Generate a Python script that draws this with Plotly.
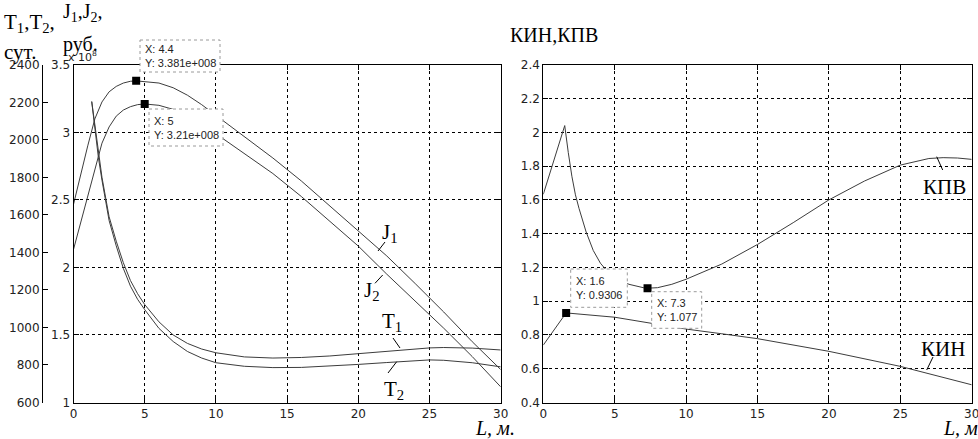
import plotly.graph_objects as go

W, H = 978, 439

# ---------------- data ----------------
# left panel: J (x 10^8 rub) and T (days) vs L, m
L_J1 = [0, 0.5, 1, 1.5, 2, 2.5, 3, 3.5, 4, 4.4, 5, 6, 7, 8, 9, 10, 12, 14, 16, 18, 20, 22, 24, 26, 28, 30]
J1 = [2.467, 2.69, 2.9, 3.10, 3.225, 3.30, 3.34, 3.365, 3.378, 3.381, 3.375, 3.365, 3.33, 3.275, 3.205,
      3.125, 2.97, 2.81, 2.64, 2.455, 2.269, 2.085, 1.88, 1.67, 1.45, 1.244]

L_J2 = [0, 0.5, 1, 1.5, 1.75, 2, 2.5, 3, 3.5, 4, 4.5, 5, 6, 7, 8, 9, 10, 12, 14, 16, 18, 20, 22, 24, 26, 28, 30]
J2 = [2.133, 2.33, 2.53, 2.73, 2.824, 2.92, 3.04, 3.12, 3.165, 3.19, 3.205, 3.21, 3.2, 3.17, 3.125, 3.065,
      2.99, 2.845, 2.695, 2.525, 2.34, 2.158, 1.95, 1.75, 1.55, 1.34, 1.116]

L_T = [1.28, 1.5, 1.75, 2, 2.5, 3, 3.5, 4, 4.5, 5, 6, 7, 8, 9, 10, 12, 14, 16, 18, 20, 22, 24, 25, 26, 28, 30]
T1 = [2204, 2075, 1920, 1800, 1590, 1460, 1345, 1250, 1180, 1122, 1030, 960, 915, 885, 865, 843, 837, 840,
      848, 860, 874, 887, 891, 893, 890, 880]
T2 = [2204, 2065, 1905, 1785, 1570, 1435, 1315, 1220, 1150, 1095, 995, 925, 872, 837, 812, 793, 786, 787,
      793, 803, 813, 823, 827, 825, 812, 790]

# right panel: КПВ and КИН vs L, m
L_KPV = [0, 0.5, 1, 1.5, 1.75, 2, 2.25, 2.5, 3, 3.5, 4, 4.5, 5, 6, 7, 7.3, 8, 9, 10, 12.5, 15, 17.5, 20, 22.5,
         25, 27, 28, 29, 30]
KPV = [1.633, 1.77, 1.9, 2.04, 1.88, 1.74, 1.63, 1.55, 1.41, 1.30, 1.225, 1.175, 1.14, 1.10, 1.08, 1.077, 1.08,
       1.10, 1.13, 1.22, 1.336, 1.465, 1.6, 1.712, 1.806, 1.845, 1.85, 1.848, 1.84]

L_KIN = [0, 1.6, 5, 7.5, 10, 12.5, 15, 20, 25, 30]
KIN = [0.74, 0.9306, 0.905, 0.87, 0.835, 0.807, 0.778, 0.703, 0.614, 0.505]

# data tips
TIP_L_X = [4.4, 5]
TIP_L_Y = [3.381, 3.21]
TIP_L_TXT = ["X: 4.4<br>Y: 3.381e+008", "X: 5<br>Y: 3.21e+008"]
TIP_R_X = [1.6, 7.3]
TIP_R_Y = [0.9306, 1.077]
TIP_R_TXT = ["X: 1.6<br>Y: 0.9306", "X: 7.3<br>Y: 1.077"]

# ---------------- layout helpers ----------------
def px(x):
    return x / W

def py(y):
    return 1 - y / H

LINE = dict(color="#3c3c3c", width=1)
TICKFONT = dict(family="DejaVu Sans", size=12, color="#222")
SERIF = "Liberation Serif"

fig = go.Figure()
fig.add_trace(go.Scatter(x=L_J1, y=J1, mode="lines", line=LINE, xaxis="x", yaxis="y"))
fig.add_trace(go.Scatter(x=L_J2, y=J2, mode="lines", line=LINE, xaxis="x", yaxis="y"))
fig.add_trace(go.Scatter(x=L_T, y=T1, mode="lines", line=LINE, xaxis="x", yaxis="y2"))
fig.add_trace(go.Scatter(x=L_T, y=T2, mode="lines", line=LINE, xaxis="x", yaxis="y2"))
fig.add_trace(go.Scatter(x=TIP_L_X, y=TIP_L_Y, mode="markers",
                         marker=dict(symbol="square", size=8, color="black"), xaxis="x", yaxis="y"))
fig.add_trace(go.Scatter(x=L_KPV, y=KPV, mode="lines", line=LINE, xaxis="x2", yaxis="y3"))
fig.add_trace(go.Scatter(x=L_KIN, y=KIN, mode="lines", line=LINE, xaxis="x2", yaxis="y3"))
fig.add_trace(go.Scatter(x=TIP_R_X, y=TIP_R_Y, mode="markers",
                         marker=dict(symbol="square", size=8, color="black"), xaxis="x2", yaxis="y3"))

common = dict(showline=True, linecolor="black", linewidth=1, ticks="inside", ticklen=5,
              tickcolor="black", tickfont=TICKFONT, zeroline=False, automargin=False,
              ticklabeloverflow="allow")
grid = dict(showgrid=True, gridcolor="black", gridwidth=1, griddash="3px,3px")

YDOM = [py(402.5), py(64.8)]

fig.update_layout(
    template="none",
    width=W, height=H, margin=dict(l=0, r=0, t=0, b=0, pad=0),
    paper_bgcolor="white", plot_bgcolor="white", showlegend=False,
    xaxis=dict(domain=[px(73.5), px(500.7)], range=[0, 30], dtick=5, anchor="y", mirror="ticks",
               **common, **grid),
    yaxis=dict(domain=YDOM, range=[1, 3.5], dtick=0.5, anchor="x", mirror="ticks", **common, **grid),
    yaxis2=dict(overlaying="y", anchor="free", position=px(42), side="left", range=[600, 2400],
                dtick=200, showgrid=False, **common),
    xaxis2=dict(domain=[px(543.3), px(971.7)], range=[0, 30], dtick=5, anchor="y3", mirror="ticks",
                **common, **grid),
    yaxis3=dict(domain=YDOM, range=[0.4, 2.4], dtick=0.2, anchor="x2", mirror="ticks", **common, **grid),
)

ann = []
def text(x, y, s, size=20, xanchor="left", family=SERIF, color="black"):
    ann.append(dict(x=px(x), y=py(y), xref="paper", yref="paper", text=s, showarrow=False,
                    xanchor=xanchor, yanchor="middle", font=dict(family=family, size=size, color=color)))

# axis titles
text(2, 23, "T<sub>1</sub>,T<sub>2</sub>,", 21)
text(2, 52, "сут.", 21)
text(61, 13, "J<sub>1</sub>,J<sub>2</sub>,", 20)
text(61, 44, "руб.", 20)
text(66, 57, "x 10<sup>8</sup>", 11, family="DejaVu Sans", color="#222")
text(508, 35, "КИН,КПВ", 20)
text(473, 428, "<i>L, м.</i>", 20)
text(941, 428, "<i>L, м</i>", 20)

# curve labels
text(390, 233, "J<sub>1</sub>", 21, "center")
text(372, 291, "J<sub>2</sub>", 21, "center")
text(392, 322, "T<sub>1</sub>", 21, "center")
text(394, 390, "T<sub>2</sub>", 21, "center")
text(944, 187, "КПВ", 21, "center")
text(943, 349, "КИН", 21, "center")

shapes = []
def seg(x0, y0, x1, y1):
    shapes.append(dict(type="line", xref="paper", yref="paper", x0=px(x0), y0=py(y0), x1=px(x1), y1=py(y1),
                       line=dict(color="black", width=1)))

seg(385, 242, 378, 251)
seg(382.7, 275, 375, 283.3)
seg(393, 338, 400, 348)
seg(396.7, 361.7, 388, 373)
seg(936.7, 156.7, 942.7, 170)
seg(933, 357, 926.7, 370)

# data-tip boxes
boxes = [(140, 40, 220, 72, TIP_L_TXT[0]), (149, 109, 223, 146, TIP_L_TXT[1]),
         (570.7, 269, 627.3, 307.3, TIP_R_TXT[0]), (651.7, 291.7, 701.7, 328.3, TIP_R_TXT[1])]
for x0, y0, x1, y1, s in boxes:
    shapes.append(dict(type="rect", xref="paper", yref="paper", x0=px(x0), y0=py(y0), x1=px(x1), y1=py(y1),
                       fillcolor="white", layer="above", line=dict(color="#9a9a9a", width=1, dash="dot")))
    ann.append(dict(x=px(x0 + 3), y=py((y0 + y1) / 2), xref="paper", yref="paper", text=s, showarrow=False,
                    xanchor="left", yanchor="middle", align="left",
                    font=dict(family="Liberation Sans", size=11, color="#222")))

fig.update_layout(annotations=ann, shapes=shapes)
fig.write_html("out.html", config={"displayModeBar": False},
               post_script="document.body.style.margin='0';document.body.style.overflow='hidden';")
